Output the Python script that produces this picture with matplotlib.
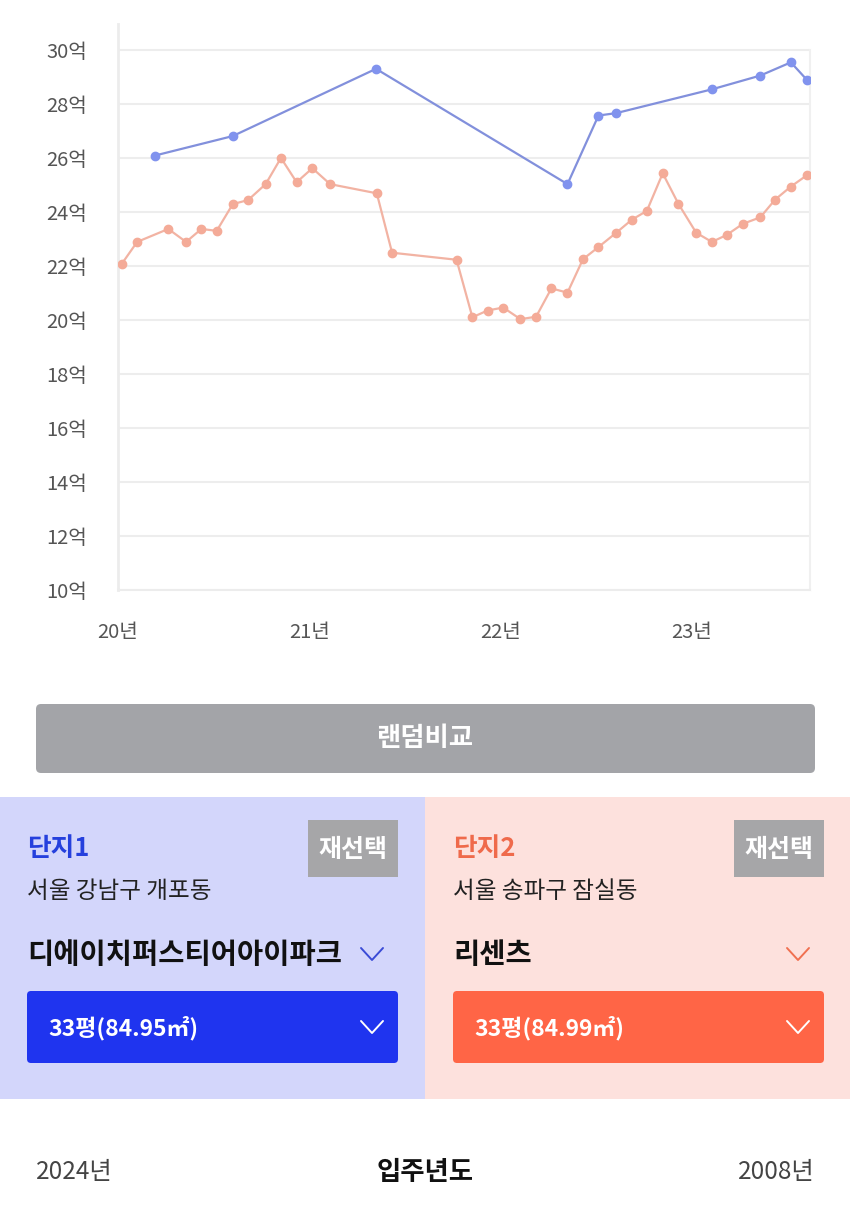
import matplotlib
matplotlib.use("Agg")
import matplotlib.pyplot as plt
from matplotlib.patches import FancyBboxPatch, Rectangle

plt.rcParams["font.family"] = ["Noto Sans CJK KR", "DejaVu Sans"]

# 단지1 (디에이치퍼스티어아이파크) - decimal year, 억
blue_x = [20.194, 20.60, 21.349, 22.35, 22.512, 22.605, 23.105, 23.358, 23.518, 23.602]
blue_y = [26.09, 26.81, 29.30, 25.03, 27.57, 27.66, 28.54, 29.05, 29.54, 28.89]

# 단지2 (리센츠)
orange_x = [20.019, 20.10, 20.263, 20.356, 20.436, 20.516, 20.60, 20.68, 20.772,
            20.852, 20.934, 21.016, 21.109, 21.353, 21.433, 21.77, 21.853, 21.932,
            22.014, 22.104, 22.186, 22.266, 22.35, 22.431, 22.512, 22.605, 22.686,
            22.765, 22.848, 22.93, 23.023, 23.105, 23.183, 23.267, 23.358, 23.436,
            23.518, 23.602]
orange_y = [22.07, 22.89, 23.37, 22.89, 23.37, 23.30, 24.29, 24.44, 25.03,
            26.00, 25.10, 25.62, 25.03, 24.69, 22.49, 22.23, 20.10, 20.35,
            20.46, 20.03, 20.12, 21.17, 21.01, 22.25, 22.70, 23.23, 23.71,
            24.04, 25.43, 24.30, 23.23, 22.89, 23.15, 23.56, 23.80, 24.46,
            24.94, 25.36]

y_ticks = list(range(10, 31, 2))
x_ticks = [20, 21, 22, 23]
x_labels = ["20년", "21년", "22년", "23년"]

W, H = 850, 1209
fig = plt.figure(figsize=(W / 100, H / 100), dpi=100)

# full-figure overlay in pixel coordinates for the UI parts
ui = fig.add_axes([0, 0, 1, 1])
ui.set_xlim(0, W)
ui.set_ylim(H, 0)
ui.axis("off")

# chart
ax = fig.add_axes([118 / W, (H - 590) / H, 692 / W, 566 / H])
ax.plot(orange_x, orange_y, color="#f2b3a3", lw=1.6, marker="o", ms=6,
        mfc="#f4ab98", mec="#f4ab98", zorder=3)
ax.plot(blue_x, blue_y, color="#8290dc", lw=1.6, marker="o", ms=6,
        mfc="#8193ee", mec="#8193ee", zorder=4)
ax.set_xlim(20, 23.618)
ax.set_ylim(10, 30.96)
ax.set_yticks(y_ticks)
ax.set_yticklabels([f"{v}억" for v in y_ticks])
ax.set_xticks(x_ticks)
ax.set_xticklabels(x_labels)
ax.tick_params(length=0, labelsize=14.5, labelcolor="#555555")
ax.tick_params(axis="y", pad=22)
ax.tick_params(axis="x", pad=23)
ax.grid(axis="y", color="#ededed", lw=1.5)
ax.set_axisbelow(True)
ax.spines["top"].set_visible(False)
ax.spines["left"].set_color("#ececec")
ax.spines["left"].set_linewidth(2)
ax.spines["bottom"].set_color("#ececec")
ax.spines["bottom"].set_linewidth(1.5)
ax.spines["right"].set_color("#f0f0f0")
ax.spines["right"].set_linewidth(1.5)
ax.spines["right"].set_bounds(10, 30)

# random compare button
ui.add_patch(FancyBboxPatch((36, 704), 779, 69, boxstyle="round,pad=0,rounding_size=5",
                            fc="#a3a4a8", ec="none"))
ui.text(425, 739, "랜덤비교", color="white", fontsize=19, fontweight="bold",
        ha="center", va="center")

# panels
ui.add_patch(Rectangle((0, 797), 425, 302, fc="#d3d6fb", ec="none"))
ui.add_patch(Rectangle((425, 797), 425, 302, fc="#fde1dd", ec="none"))


def chevron(x, y, color, lw=1.4):
    ui.plot([x - 11, x, x + 11], [y - 6, y + 6, y - 6], color=color, lw=lw,
            solid_capstyle="round", solid_joinstyle="round")


panels = [
    (0, "단지1", "#2540dd", "서울 강남구 개포동", "디에이치퍼스티어아이파크",
     "33평(84.95㎡)", "#1f34ef", "#3a4bd6"),
    (426, "단지2", "#ef6a4b", "서울 송파구 잠실동", "리센츠",
     "33평(84.99㎡)", "#ff6546", "#f07050"),
]
for off, title, tcolor, addr, name, size, boxc, chevc in panels:
    ui.text(off + 27, 849, title, color=tcolor, fontsize=18.5, fontweight="bold",
            va="center", ha="left")
    ui.add_patch(Rectangle((off + 308, 820), 90, 57, fc="#a6a6a8", ec="none"))
    ui.text(off + 353, 850, "재선택", color="white", fontsize=18, fontweight="bold",
            ha="center", va="center")
    ui.text(off + 27, 892, addr, color="#222222", fontsize=17, va="center", ha="left")
    ui.text(off + 27, 955, name, color="#111111", fontsize=20.5, fontweight="bold",
            va="center", ha="left")
    chevron(off + 372, 954, chevc)
    ui.add_patch(FancyBboxPatch((off + 27, 991), 371, 72,
                                boxstyle="round,pad=0,rounding_size=4", fc=boxc, ec="none"))
    ui.text(off + 48, 1028, size, color="white", fontsize=16.5, fontweight="bold",
            va="center", ha="left")
    chevron(off + 372, 1027, "white")

# bottom row
ui.text(36, 1172, "2024년", color="#444444", fontsize=17.5, ha="left", va="center")
ui.text(425, 1172, "입주년도", color="#111111", fontsize=19, fontweight="bold",
        ha="center", va="center")
ui.text(815, 1172, "2008년", color="#444444", fontsize=17.5, ha="right", va="center")

fig.savefig("out.png", dpi=100, facecolor="white")
